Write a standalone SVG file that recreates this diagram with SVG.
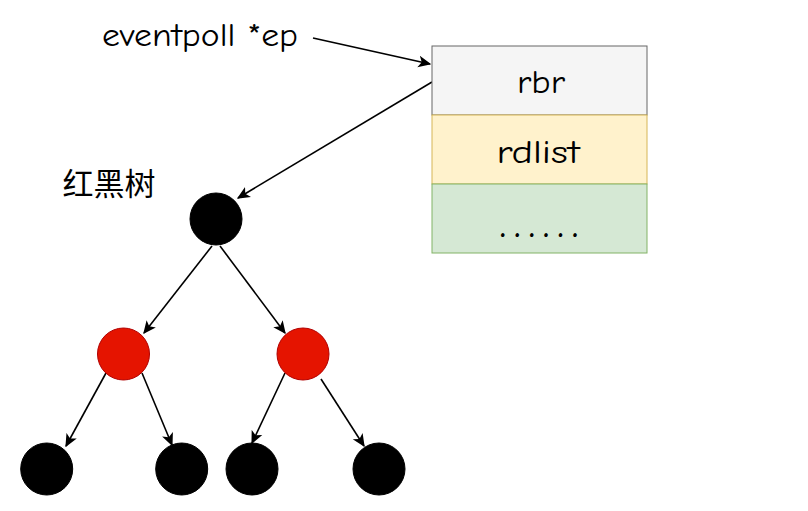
<svg xmlns="http://www.w3.org/2000/svg" width="808" height="511" viewBox="0 0 808 511">
<defs>
<marker id="arr" viewBox="0 0 10 10" refX="9" refY="5" markerWidth="13" markerHeight="13" markerUnits="userSpaceOnUse" orient="auto">
<path d="M0,0.5 L10,5 L0,9.5 L2.5,5 Z" fill="#000"/>
</marker>
<style>
.t{font-family:"Comic Neue","Open Sans","DejaVu Sans",sans-serif;font-size:32px;fill:#000;text-anchor:middle}
.e{stroke:#000;stroke-width:1.6;fill:none;marker-end:url(#arr)}
.b{fill:#000;stroke:#000}
.r{fill:#e51400;stroke:#b20000}
</style>
</defs>
<rect width="808" height="511" fill="#fff"/>
<g id="connectors">
<line class="e" x1="313" y1="38" x2="430" y2="64"/>
<line class="e" x1="432" y1="82" x2="238" y2="198"/>
<line class="e" x1="212" y1="246" x2="144" y2="333"/>
<line class="e" x1="220" y1="246" x2="285" y2="333"/>
<line class="e" x1="106" y1="373" x2="66" y2="446"/>
<line class="e" x1="142" y1="373" x2="172" y2="445"/>
<line class="e" x1="285" y1="373" x2="252" y2="443"/>
<line class="e" x1="321" y1="379" x2="364" y2="446"/>
</g>
<g id="label-ep"><text class="t" x="200" y="46" textLength="196" lengthAdjust="spacingAndGlyphs">eventpoll *ep</text></g>
<g id="label-tree"><text x="109" y="195" style="font-family:'Noto Sans CJK SC',sans-serif;font-size:31px;text-anchor:middle">红黑树</text></g>
<g id="rbr"><rect x="432" y="46" width="215" height="69" fill="#f5f5f5" stroke="#666666"/><text class="t" x="541" y="93" fill="#333" textLength="48" lengthAdjust="spacingAndGlyphs">rbr</text></g>
<g id="rdlist"><rect x="432" y="115" width="215" height="69" fill="#fff2cc" stroke="#d6b656"/><text class="t" x="538" y="163" textLength="83" lengthAdjust="spacingAndGlyphs">rdlist</text></g>
<g id="more"><rect x="432" y="184" width="215" height="69" fill="#d5e8d4" stroke="#82b366"/><text class="t" x="539" y="237" font-weight="bold" textLength="78" lengthAdjust="spacing">......</text></g>
<g id="root"><circle class="b" cx="216" cy="219" r="26"/></g>
<g id="red-left"><circle class="r" cx="123.5" cy="354" r="26"/></g>
<g id="red-right"><circle class="r" cx="303" cy="354" r="26"/></g>
<g id="leaf1"><circle class="b" cx="46.7" cy="469" r="26"/></g>
<g id="leaf2"><circle class="b" cx="181.7" cy="469" r="26"/></g>
<g id="leaf3"><circle class="b" cx="252" cy="469" r="26"/></g>
<g id="leaf4"><circle class="b" cx="379" cy="469" r="26"/></g>
</svg>
